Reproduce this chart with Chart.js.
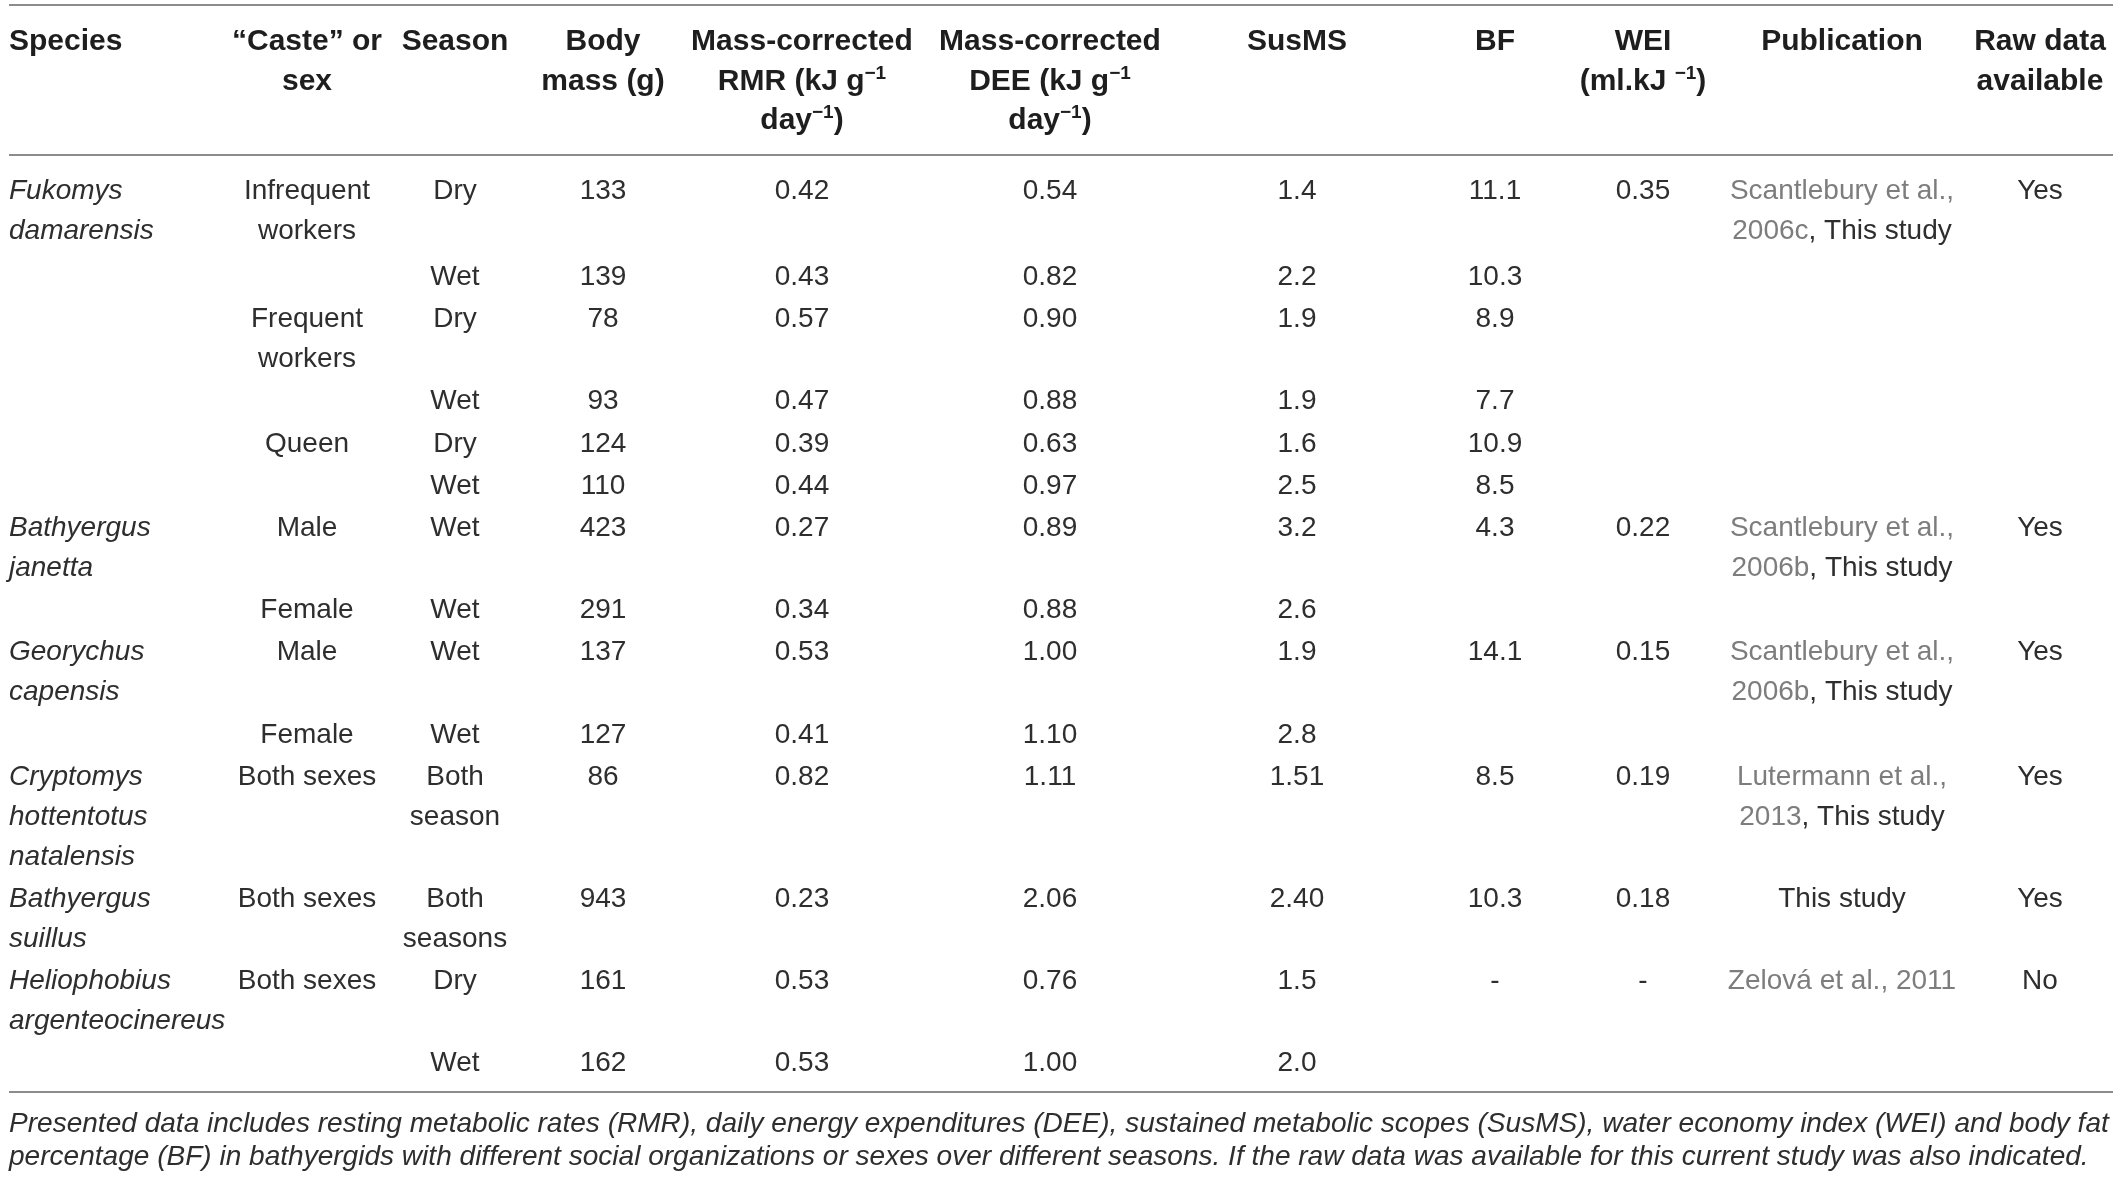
<!DOCTYPE html>
<html>
<head>
<meta charset="utf-8">
<script src="https://cdn.jsdelivr.net/npm/chart.js@4.4.1/dist/chart.umd.min.js"></script>
<style>
  html, body { margin: 0; padding: 0; background: #fff; }
  canvas { display: block; }
</style>
</head>
<body>
<canvas id="tableChart" width="2121" height="1179"></canvas>
<script>
// table content, one array per column (14 body rows)
const headers = [
  [['Species']],
  [['“Caste” or'], ['sex']],
  [['Season']],
  [['Body'], ['mass (g)']],
  [['Mass-corrected'], ['RMR (kJ g', {t: '−1', sup: true}], ['day', {t: '−1', sup: true}, ')']],
  [['Mass-corrected'], ['DEE (kJ g', {t: '−1', sup: true}], ['day', {t: '−1', sup: true}, ')']],
  [['SusMS']],
  [['BF']],
  [['WEI'], ['(ml.kJ ', {t: '−1', sup: true}, ')']],
  [['Publication']],
  [['Raw data'], ['available']]
];

const species = [
  ['Fukomys', 'damarensis'], [], [], [], [], [],
  ['Bathyergus', 'janetta'], [],
  ['Georychus', 'capensis'], [],
  ['Cryptomys', 'hottentotus', 'natalensis'],
  ['Bathyergus', 'suillus'],
  ['Heliophobius', 'argenteocinereus'], []
];
const casteOrSex = [
  ['Infrequent', 'workers'], [], ['Frequent', 'workers'], [], ['Queen'], [],
  ['Male'], ['Female'], ['Male'], ['Female'],
  ['Both sexes'], ['Both sexes'], ['Both sexes'], []
];
const season = [
  ['Dry'], ['Wet'], ['Dry'], ['Wet'], ['Dry'], ['Wet'],
  ['Wet'], ['Wet'], ['Wet'], ['Wet'],
  ['Both', 'season'], ['Both', 'seasons'], ['Dry'], ['Wet']
];
const bodyMass = ['133', '139', '78', '93', '124', '110', '423', '291', '137', '127', '86', '943', '161', '162'];
const rmr = ['0.42', '0.43', '0.57', '0.47', '0.39', '0.44', '0.27', '0.34', '0.53', '0.41', '0.82', '0.23', '0.53', '0.53'];
const dee = ['0.54', '0.82', '0.90', '0.88', '0.63', '0.97', '0.89', '0.88', '1.00', '1.10', '1.11', '2.06', '0.76', '1.00'];
const susMS = ['1.4', '2.2', '1.9', '1.9', '1.6', '2.5', '3.2', '2.6', '1.9', '2.8', '1.51', '2.40', '1.5', '2.0'];
const bf = ['11.1', '10.3', '8.9', '7.7', '10.9', '8.5', '4.3', '', '14.1', '', '8.5', '10.3', '-', ''];
const wei = ['0.35', '', '', '', '', '', '0.22', '', '0.15', '', '0.19', '0.18', '-', ''];
const publication = [
  [[{t: 'Scantlebury et al.,', grey: true}], [{t: '2006c', grey: true}, ', This study']], [], [], [], [], [],
  [[{t: 'Scantlebury et al.,', grey: true}], [{t: '2006b', grey: true}, ', This study']], [],
  [[{t: 'Scantlebury et al.,', grey: true}], [{t: '2006b', grey: true}, ', This study']], [],
  [[{t: 'Lutermann et al.,', grey: true}], [{t: '2013', grey: true}, ', This study']],
  [['This study']],
  [[{t: 'Zelová et al., 2011', grey: true}]], []
];
const rawData = ['Yes', '', '', '', '', '', 'Yes', '', 'Yes', '', 'Yes', 'Yes', 'No', ''];

const caption = [
  'Presented data includes resting metabolic rates (RMR), daily energy expenditures (DEE), sustained metabolic scopes (SusMS), water economy index (WEI) and body fat',
  'percentage (BF) in bathyergids with different social organizations or sexes over different seasons. If the raw data was available for this current study was also indicated.'
];

// layout (pixels)
const W = 2121, H = 1179;
const FONT = '"Liberation Sans", Arial, Helvetica, sans-serif';
const colX = [9, 307, 455, 603, 802, 1050, 1297, 1495, 1643, 1842, 2040];
const colAlign = ['left', 'center', 'center', 'center', 'center', 'center', 'center', 'center', 'center', 'center', 'center'];
const ruleLeft = 9, ruleRight = 2113;
const ruleY = [5, 155, 1092];
const headLineY = [42, 82, 121];
const bodyTop = 191, firstRowExtra = 4, lineH = 40, rowGap = 2.2;
const captionBase = [1132, 1165];

function lines(v) {
  if (v === '' || v == null) return [];
  if (typeof v === 'string') return [[v]];
  return v.map(l => typeof l === 'string' ? [l] : l);
}

const columns = [
  species.map(lines), casteOrSex.map(lines), season.map(lines), bodyMass.map(lines),
  rmr.map(lines), dee.map(lines), susMS.map(lines), bf.map(lines), wei.map(lines),
  publication, rawData.map(lines)
];
const nRows = bodyMass.length;

function drawRich(ctx, segs, x, y, align, font, supFont, color, baseline) {
  const parts = segs.map(s => typeof s === 'string' ? {t: s} : s);
  let total = 0;
  parts.forEach(p => {
    ctx.font = p.sup ? supFont : font;
    p.w = ctx.measureText(p.t).width;
    total += p.w;
  });
  let cx = align === 'center' ? x - total / 2 : x;
  ctx.textAlign = 'left';
  ctx.textBaseline = baseline || 'middle';
  parts.forEach(p => {
    ctx.font = p.sup ? supFont : font;
    ctx.fillStyle = p.grey ? '#7d7d7d' : color;
    ctx.fillText(p.t, cx, p.sup ? y - 8 : y);
    cx += p.w;
  });
}

const tablePlugin = {
  id: 'tablePlugin',
  beforeDraw(chart) {
    const ctx = chart.ctx;
    ctx.save();
    ctx.fillStyle = '#fff';
    ctx.fillRect(0, 0, chart.width, chart.height);
    ctx.restore();
  },
  afterDraw(chart) {
    const ctx = chart.ctx;
    const xs = chart.scales.x, ys = chart.scales.y;
    ctx.save();

    // horizontal rules
    ctx.strokeStyle = '#8c8c8c';
    ctx.lineWidth = 2;
    ruleY.forEach(v => {
      const py = Math.round(ys.getPixelForValue(v));
      ctx.beginPath();
      ctx.moveTo(xs.getPixelForValue(ruleLeft), py);
      ctx.lineTo(xs.getPixelForValue(ruleRight), py);
      ctx.stroke();
    });

    // header
    headers.forEach((h, c) => {
      h.forEach((segs, i) => {
        drawRich(ctx, segs, xs.getPixelForValue(colX[c]), ys.getPixelForValue(headLineY[i]),
          colAlign[c], 'bold 30px ' + FONT, 'bold 19px ' + FONT, '#1e1e1e');
      });
    });

    // body rows
    let top = bodyTop;
    for (let r = 0; r < nRows; r++) {
      let maxLines = 1;
      columns.forEach((col, c) => {
        const cell = col[r] || [];
        maxLines = Math.max(maxLines, cell.length);
        const font = (c === 0 ? 'italic ' : '') + '28px ' + FONT;
        cell.forEach((segs, i) => {
          drawRich(ctx, segs, xs.getPixelForValue(colX[c]), ys.getPixelForValue(top + i * lineH),
            colAlign[c], font, '19px ' + FONT, '#2e2e2e');
        });
      });
      top += maxLines * lineH + rowGap + (r === 0 ? firstRowExtra : 0);
    }

    // caption, sized so the first line spans the table width
    ctx.font = 'italic 26px ' + FONT;
    const fit = 26 * (ruleRight - ruleLeft - 4) / ctx.measureText(caption[0]).width;
    caption.forEach((t, i) => {
      drawRich(ctx, [t], xs.getPixelForValue(ruleLeft), ys.getPixelForValue(captionBase[i]),
        'left', 'italic ' + fit.toFixed(2) + 'px ' + FONT, '', '#2e2e2e', 'alphabetic');
    });
    ctx.restore();
  }
};

new Chart(document.getElementById('tableChart'), {
  type: 'scatter',
  data: { datasets: [] },
  options: {
    responsive: false,
    animation: false,
    devicePixelRatio: 1,
    layout: { padding: 0 },
    plugins: { legend: { display: false }, tooltip: { enabled: false } },
    scales: {
      x: { type: 'linear', min: 0, max: W, display: false },
      y: { type: 'linear', min: 0, max: H, reverse: true, display: false }
    }
  },
  plugins: [tablePlugin]
});
</script>
</body>
</html>
